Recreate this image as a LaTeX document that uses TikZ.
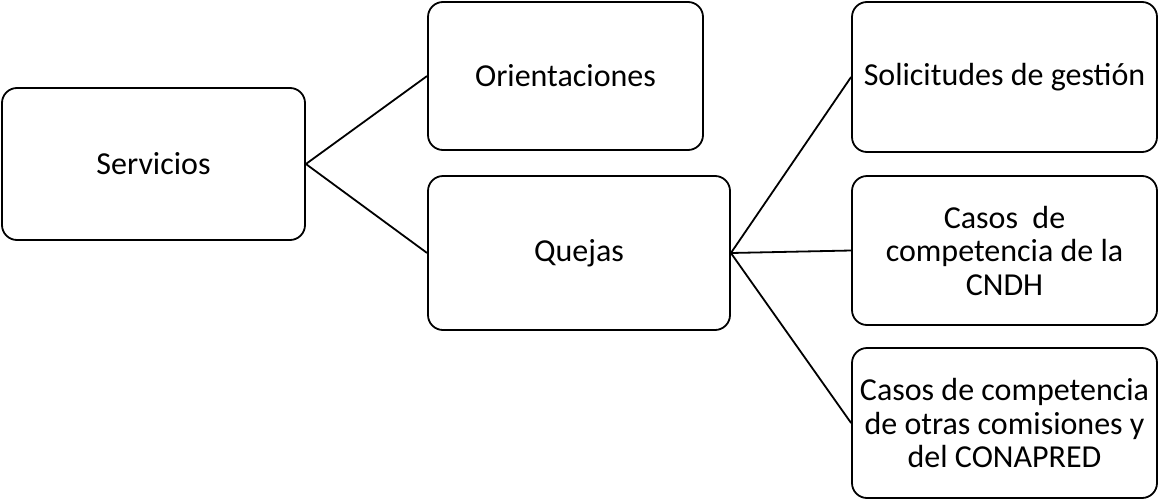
\documentclass[tikz,border=0pt]{standalone}
\usepackage{fontspec}
\setmainfont{Carlito}
\usetikzlibrary{positioning}
\tikzset{
	x=1pt, y=-1pt, % one unit per pixel, y going down
	box/.style={draw, line width=1.8pt, rounded corners=15pt, align=center, inner sep=0pt,
		font=\fontsize{32}{33.5}\selectfont}, % sets the properties for each box
	link/.style={line width=1.8pt}, % plain connecting lines
}
\begin{document}
\begin{tikzpicture}
	\useasboundingbox (0,0) rectangle (1159,501);
			\node[box, minimum width=303pt, minimum height=152pt] at (153.5,164) (serv) {Servicios};
			\node[box, minimum width=275pt, minimum height=148pt] at (565.5,76) (orient) {Orientaciones};
			\node[box, minimum width=302pt, minimum height=154pt] at (579,253) (quejas) {Quejas};
			\node[box, minimum width=305pt, minimum height=150pt] at (1004.5,77) (solic) {Solicitudes de gesti\'on};
			\node[box, minimum width=305pt, minimum height=149pt] at (1004.5,250.5) (cndh) {Casos\ \ de\\competencia de la\\CNDH};
			\node[box, minimum width=305pt, minimum height=150pt] at (1004.5,423) (otras) {Casos de competencia\\de otras comisiones y\\del CONAPRED};
	\draw[link] (serv.east) -- (orient.west)
			(serv.east) -- (quejas.west);
	\draw[link] (quejas.east) -- (solic.west)
			(quejas.east) -- (cndh.west)
			(quejas.east) -- (otras.west);
\end{tikzpicture}
\end{document}
